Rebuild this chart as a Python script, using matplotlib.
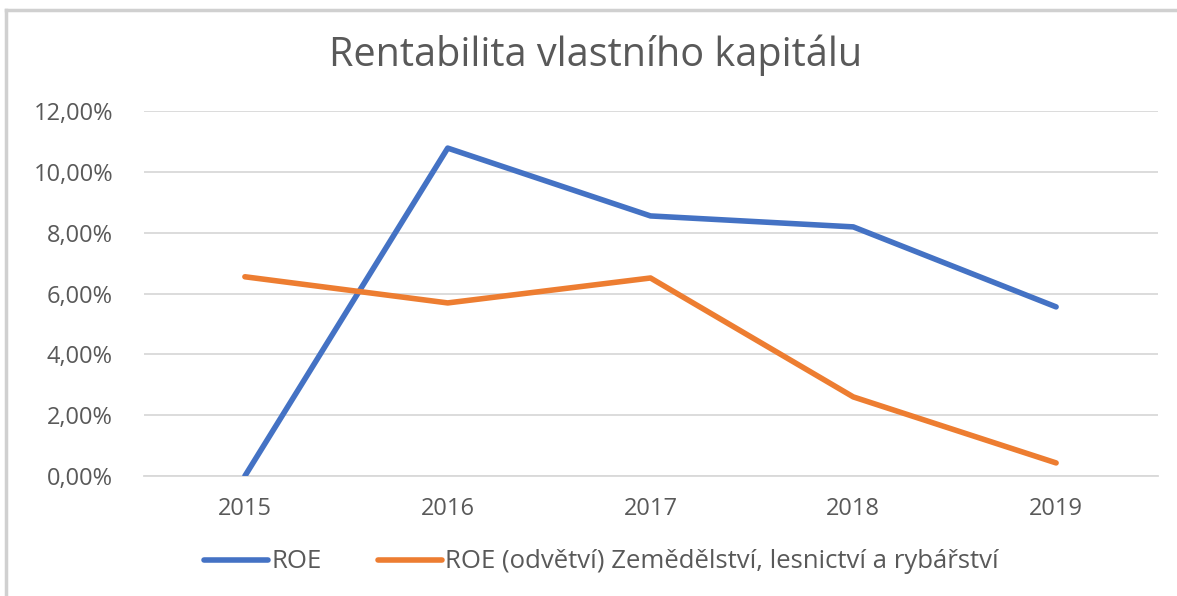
import matplotlib
matplotlib.use("Agg")
import matplotlib.pyplot as plt
from matplotlib.lines import Line2D
from matplotlib.ticker import FuncFormatter

# data
years = ["2015", "2016", "2017", "2018", "2019"]
roe = [0.00, 10.78, 8.55, 8.19, 5.56]
roe_odvetvi = [6.55, 5.69, 6.51, 2.60, 0.43]
series_labels = ["ROE", "ROE (odvětví) Zemědělství, lesnictví a rybářství"]
y_ticks = [0, 2, 4, 6, 8, 10, 12]

plt.rcParams['font.family'] = ['Open Sans', 'DejaVu Sans']

fig = plt.figure(figsize=(11.77, 5.96), dpi=100)
ax = fig.add_axes([143.5 / 1177, 1 - 476 / 596, 1014 / 1177, 365 / 596])

x = range(len(years))
ax.plot(x, roe, color="#4472C4", linewidth=4, solid_capstyle="round", zorder=3)
ax.plot(x, roe_odvetvi, color="#ED7D31", linewidth=4, solid_capstyle="round", zorder=3)

ax.set_xlim(-0.5, len(years) - 0.5)
ax.set_ylim(0, 12)
ax.set_xticks(list(x))
ax.set_xticklabels(years)
ax.set_yticks(y_ticks)
ax.yaxis.set_major_formatter(FuncFormatter(lambda v, p: f"{v:.2f}%".replace(".", ",")))
ax.tick_params(axis="both", length=0, labelsize=17, colors="#595959")
ax.tick_params(axis="x", pad=15)
ax.tick_params(axis="y", pad=22)
ax.grid(axis="y", color="#D9D9D9", linewidth=1.3)
ax.set_axisbelow(True)
for side in ["top", "right", "left"]:
    ax.spines[side].set_visible(False)
ax.spines["bottom"].set_color("#D9D9D9")
ax.spines["bottom"].set_linewidth(1.3)

fig.text(0.506, 1 - 55 / 596, "Rentabilita vlastního kapitálu", ha="center", va="center",
         fontsize=28.5, color="#595959")

handles = [Line2D([], [], color="#4472C4", linewidth=4, solid_capstyle="round"),
           Line2D([], [], color="#ED7D31", linewidth=4, solid_capstyle="round")]
fig.legend(handles, series_labels, loc="center", bbox_to_anchor=(0.511, 1 - 562 / 596),
           ncol=2, frameon=False, fontsize=18.5, handlelength=2.5, handletextpad=0.12,
           columnspacing=2.2, labelcolor="#595959")

# outer frame of the screenshot
fig.add_artist(Line2D([6 / 1177, 6 / 1177], [0, 1 - 10 / 596], color="#D0D0D0", linewidth=2.5))
fig.add_artist(Line2D([6 / 1177, 1], [1 - 10 / 596, 1 - 10 / 596], color="#D0D0D0", linewidth=2.5))

fig.savefig("out.png", dpi=100)
